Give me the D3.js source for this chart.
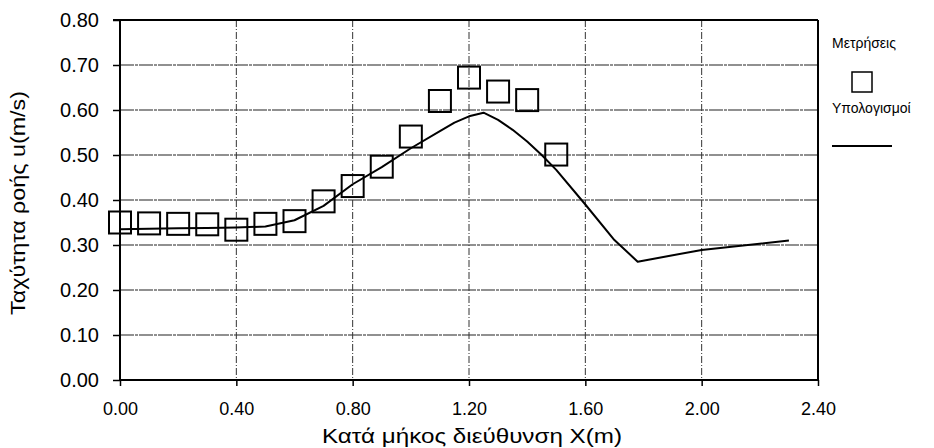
<!DOCTYPE html>
<html>
<head>
<meta charset="utf-8">
<script src="https://cdn.jsdelivr.net/npm/d3@7"></script>
<style>
  body { margin: 0; background: #fff; }
  svg text { font-family: "Liberation Sans", Arial, sans-serif; fill: #000; }
</style>
</head>
<body>
<figure id="chart" style="margin:0"></figure>
<script>
// measured values (squares)
const measX = [0.0, 0.1, 0.2, 0.3, 0.4, 0.5, 0.6, 0.7, 0.8, 0.9, 1.0, 1.1, 1.2, 1.3, 1.4, 1.5];
const measU = [0.35, 0.348, 0.347, 0.346, 0.334, 0.347, 0.353, 0.397, 0.431, 0.474, 0.541, 0.62, 0.672, 0.641, 0.622, 0.501];

// computed values (line)
const calcX = [0.0, 0.1, 0.2, 0.3, 0.4, 0.5, 0.6, 0.7, 0.8, 0.9, 1.0, 1.1, 1.15, 1.2, 1.25, 1.3, 1.35, 1.4, 1.45, 1.5, 1.6, 1.7, 1.78, 2.0, 2.3];
const calcU = [0.335, 0.336, 0.337, 0.338, 0.339, 0.341, 0.355, 0.387, 0.435, 0.473, 0.515, 0.553, 0.572, 0.586, 0.594, 0.578, 0.556, 0.53, 0.5, 0.467, 0.39, 0.311, 0.263, 0.289, 0.31];

const xTicks = [0, 0.4, 0.8, 1.2, 1.6, 2.0, 2.4];
const yTicks = [0, 0.1, 0.2, 0.3, 0.4, 0.5, 0.6, 0.7, 0.8];

const legendLabels = ["Μετρήσεις", "Υπολογισμοί"];
const xTitle = "Κατά μήκος διεύθυνση X(m)";
const yTitle = "Ταχύτητα ροής u(m/s)";

const width = 934, height = 448;
const plotL = 120, plotR = 818, plotT = 20, plotB = 380;

const svg = d3.select("#chart").append("svg")
  .attr("width", width)
  .attr("height", height);

const x = d3.scaleLinear().domain([0, 2.4]).range([plotL, plotR]);
const y = d3.scaleLinear().domain([0, 0.8]).range([plotB, plotT]);

// horizontal grid
svg.append("g")
  .selectAll("line")
  .data(yTicks.filter(d => d > 0 && d < 0.8))
  .enter()
  .append("line")
  .attr("x1", plotL).attr("x2", plotR)
  .attr("y1", d => y(d)).attr("y2", d => y(d))
  .attr("stroke", "#222")
  .attr("stroke-width", 1.2)
  .attr("stroke-dasharray", "14,1,3,1");

// vertical grid (dash-dot)
svg.append("g")
  .selectAll("line")
  .data(xTicks.filter(d => d > 0 && d < 2.4))
  .enter()
  .append("line")
  .attr("x1", d => x(d)).attr("x2", d => x(d))
  .attr("y1", plotT).attr("y2", plotB)
  .attr("stroke", "#333")
  .attr("stroke-width", 1)
  .attr("stroke-dasharray", "7,2,1,2");

// axes
const xAxis = d3.axisBottom(x).tickValues(xTicks).tickFormat(d3.format(".2f")).tickSize(6).tickPadding(16);
const yAxis = d3.axisLeft(y).tickValues(yTicks).tickFormat(d3.format(".2f")).tickSize(7).tickPadding(14);

const gx = svg.append("g").attr("transform", `translate(0,${plotB})`).call(xAxis);
const gy = svg.append("g").attr("transform", `translate(${plotL},0)`).call(yAxis);

[gx, gy].forEach(g => {
  g.select(".domain").attr("stroke", "#000").attr("stroke-width", 2);
  g.selectAll(".tick line").attr("stroke", "#000").attr("stroke-width", 1.5);
  g.selectAll(".tick text")
    .style("font-family", "'Liberation Sans', Arial, sans-serif")
    .attr("fill", "#000");
});
gx.selectAll(".tick text").style("font-size", "18px");
gy.selectAll(".tick text").style("font-size", "20px");
gx.select(".domain").attr("d", `M${plotL},0H${plotR}`);
gy.select(".domain").attr("d", `M0,${plotB}V${plotT}`);

// frame top and right
svg.append("line")
  .attr("x1", plotL - 7).attr("x2", plotR)
  .attr("y1", plotT).attr("y2", plotT)
  .attr("stroke", "#000").attr("stroke-width", 2);
svg.append("line")
  .attr("x1", plotR).attr("x2", plotR)
  .attr("y1", plotT).attr("y2", plotB)
  .attr("stroke", "#000").attr("stroke-width", 2);

// computed line
const calc = calcX.map((d, i) => [d, calcU[i]]);
svg.append("path")
  .datum(calc)
  .attr("fill", "none")
  .attr("stroke", "#000")
  .attr("stroke-width", 2)
  .attr("stroke-linejoin", "round")
  .attr("d", d3.line().x(d => x(d[0])).y(d => y(d[1])));

// measured squares
const sq = 22;
svg.append("g")
  .selectAll("rect")
  .data(measX.map((d, i) => [d, measU[i]]))
  .enter()
  .append("rect")
  .attr("x", d => x(d[0]) - sq / 2)
  .attr("y", d => y(d[1]) - sq / 2)
  .attr("width", sq).attr("height", sq)
  .attr("fill", "none")
  .attr("stroke", "#000")
  .attr("stroke-width", 2);

// legend
const lg = svg.append("g");
lg.append("text").attr("x", 832).attr("y", 48).style("font-size", "14px").text(legendLabels[0]);
lg.append("rect").attr("x", 852).attr("y", 72).attr("width", 20).attr("height", 20)
  .attr("fill", "none").attr("stroke", "#000").attr("stroke-width", 1.5);
lg.append("text").attr("x", 832).attr("y", 113).style("font-size", "14px").text(legendLabels[1]);
lg.append("line").attr("x1", 832).attr("x2", 892).attr("y1", 146).attr("y2", 146)
  .attr("stroke", "#000").attr("stroke-width", 2);

// axis titles
svg.append("text")
  .attr("x", 472)
  .attr("y", 443)
  .attr("text-anchor", "middle")
  .attr("textLength", 300)
  .attr("lengthAdjust", "spacingAndGlyphs")
  .style("font-size", "20px")
  .text(xTitle);

svg.append("text")
  .attr("transform", "translate(25,203) rotate(-90)")
  .attr("text-anchor", "middle")
  .attr("textLength", 224)
  .attr("lengthAdjust", "spacingAndGlyphs")
  .style("font-size", "20px")
  .text(yTitle);
</script>
</body>
</html>
